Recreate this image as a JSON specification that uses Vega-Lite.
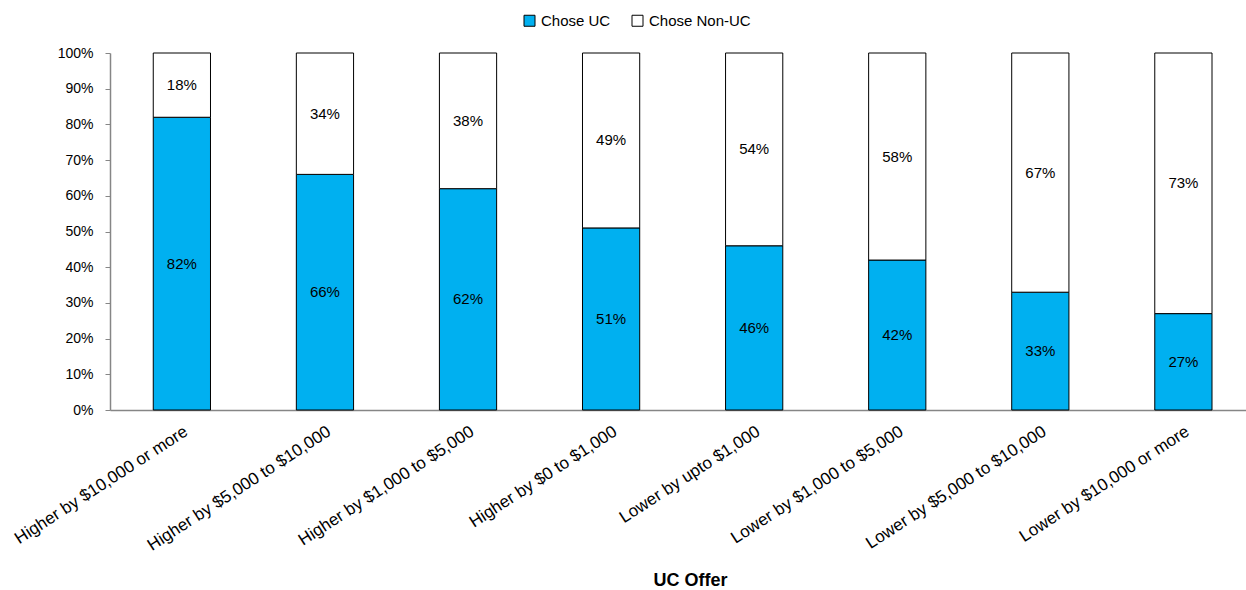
{
  "$schema": "https://vega.github.io/schema/vega-lite/v6.json",
  "autosize": {"type": "none"},
  "width": 1136,
  "height": 357,
  "padding": {"left": 110, "top": 53, "right": 0, "bottom": 180},
  "background": "white",
  "config": {
    "font": "Liberation Sans",
    "view": {"stroke": null},
    "axis": {"grid": false, "domainColor": "#868686", "domainWidth": 1.5, "tickColor": "#868686", "labelColor": "#000000", "labelFont": "Liberation Sans", "titleFont": "Liberation Sans"}
  },
  "data": {
    "values": [
      {"offer": "Higher by $10,000 or more", "choice": "Chose UC", "pct": 82},
      {"offer": "Higher by $10,000 or more", "choice": "Chose Non-UC", "pct": 18},
      {"offer": "Higher by $5,000 to $10,000", "choice": "Chose UC", "pct": 66},
      {"offer": "Higher by $5,000 to $10,000", "choice": "Chose Non-UC", "pct": 34},
      {"offer": "Higher by $1,000 to $5,000", "choice": "Chose UC", "pct": 62},
      {"offer": "Higher by $1,000 to $5,000", "choice": "Chose Non-UC", "pct": 38},
      {"offer": "Higher by $0 to $1,000", "choice": "Chose UC", "pct": 51},
      {"offer": "Higher by $0 to $1,000", "choice": "Chose Non-UC", "pct": 49},
      {"offer": "Lower by upto $1,000", "choice": "Chose UC", "pct": 46},
      {"offer": "Lower by upto $1,000", "choice": "Chose Non-UC", "pct": 54},
      {"offer": "Lower by $1,000 to $5,000", "choice": "Chose UC", "pct": 42},
      {"offer": "Lower by $1,000 to $5,000", "choice": "Chose Non-UC", "pct": 58},
      {"offer": "Lower by $5,000 to $10,000", "choice": "Chose UC", "pct": 33},
      {"offer": "Lower by $5,000 to $10,000", "choice": "Chose Non-UC", "pct": 67},
      {"offer": "Lower by $10,000 or more", "choice": "Chose UC", "pct": 27},
      {"offer": "Lower by $10,000 or more", "choice": "Chose Non-UC", "pct": 73}
    ]
  },
  "transform": [
    {"calculate": "datum.choice === 'Chose UC' ? 0 : 1", "as": "ord"},
    {"stack": "pct", "groupby": ["offer"], "sort": [{"field": "ord", "order": "ascending"}], "as": ["v0", "v1"]},
    {"calculate": "(datum.v0 + datum.v1) / 2", "as": "vmid"},
    {"calculate": "datum.pct + '%'", "as": "label"}
  ],
  "encoding": {
    "x": {
      "field": "offer",
      "type": "nominal",
      "sort": null,
      "scale": {"paddingInner": 0.6, "paddingOuter": 0.27, "align": 0.56},
      "axis": {
        "title": "UC Offer",
        "titleFontSize": 18,
        "titleFontWeight": "bold",
        "titleColor": "#000000",
        "titleX": 580,
        "titleAlign": "center",
        "titleY": 170,
        "titleBaseline": "middle",
        "labelAngle": -33,
        "labelAlign": "right",
        "labelBaseline": "top",
        "labelFontSize": 17,
        "labelPadding": 13,
        "ticks": false,
        "labelLimit": 400
      }
    }
  },
  "layer": [
    {
      "mark": {"type": "bar", "stroke": "#000000", "strokeWidth": 1},
      "encoding": {
        "y": {
          "field": "v0",
          "type": "quantitative",
          "scale": {"domain": [0, 100], "nice": false},
          "axis": {
            "title": null,
            "values": [0, 10, 20, 30, 40, 50, 60, 70, 80, 90, 100],
            "labelExpr": "datum.value + '%'",
            "labelOverlap": false,
            "labelFontSize": 14,
            "tickSize": 5,
            "labelPadding": 12
          }
        },
        "y2": {"field": "v1"},
        "color": {
          "field": "choice",
          "type": "nominal",
          "scale": {"domain": ["Chose UC", "Chose Non-UC"], "range": ["#00B0F0", "#FFFFFF"]},
          "legend": {
            "title": null,
            "orient": "none",
            "direction": "horizontal",
            "legendX": 412,
            "legendY": -40,
            "symbolType": "square",
            "symbolSize": 121,
            "symbolStrokeColor": "#000000",
            "symbolStrokeWidth": 1,
            "labelFontSize": 15,
            "labelColor": "#000000",
            "labelOffset": 4,
            "columnPadding": 19,
            "padding": 0
          }
        }
      }
    },
    {
      "mark": {"type": "text", "fontSize": 15, "color": "#000000", "baseline": "middle"},
      "encoding": {
        "y": {
          "field": "vmid",
          "type": "quantitative",
          "axis": {
            "title": null,
            "values": [0, 10, 20, 30, 40, 50, 60, 70, 80, 90, 100],
            "labelExpr": "datum.value + '%'",
            "labelOverlap": false,
            "labelFontSize": 14,
            "tickSize": 5,
            "labelPadding": 12
          }
        },
        "text": {"field": "label", "type": "nominal"},
        "detail": {"field": "choice"}
      }
    }
  ]
}
